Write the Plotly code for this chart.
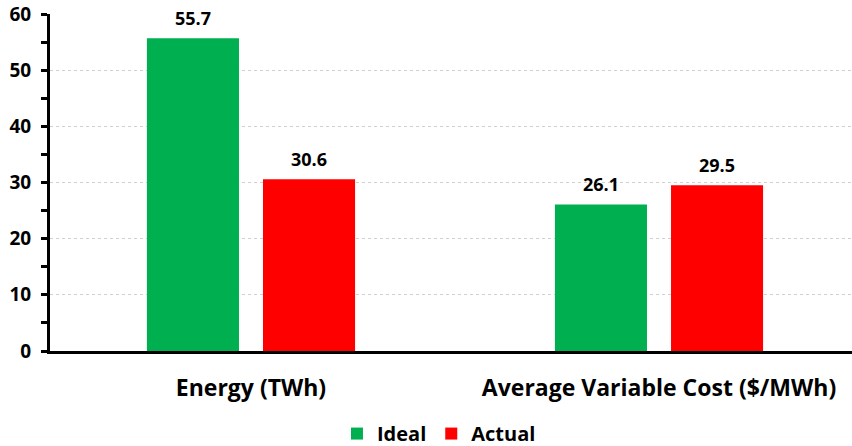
import plotly.graph_objects as go

categories = ["Energy (TWh)", "Average Variable Cost ($/MWh)"]
ideal = [55.7, 26.1]
actual = [30.6, 29.5]
series_names = ["Ideal", "Actual"]
y_ticks = [0, 10, 20, 30, 40, 50, 60]

GREEN = "#00B050"
RED = "#FF0000"
FONT = "Open Sans"

fig = go.Figure()
fig.add_trace(go.Bar(x=categories, y=ideal, name=series_names[0],
                     marker=dict(color=GREEN, line=dict(width=0))))
fig.add_trace(go.Bar(x=categories, y=actual, name=series_names[1],
                     marker=dict(color=RED, line=dict(width=0))))

# value labels above each bar
for vals, shift in ((ideal, -58), (actual, 58)):
    for cat, v in zip(categories, vals):
        fig.add_annotation(x=cat, y=v, xref="x", yref="y", text=f"<b>{v:.1f}</b>",
                           showarrow=False, xshift=shift, yshift=20,
                           font=dict(family=FONT, size=18, color="black"))

fig.update_layout(
    width=852, height=446,
    margin=dict(l=50, r=0, t=14, b=95, autoexpand=False),
    paper_bgcolor="white", plot_bgcolor="white",
    barmode="group", bargap=0.431, bargroupgap=0.207,
    font=dict(family=FONT, color="black"),
    showlegend=True,
    legend=dict(orientation="h", x=0.485, xanchor="center", y=-0.245, yanchor="middle",
                font=dict(family=FONT, size=20, color="black", weight="bold"),
                itemwidth=30, traceorder="normal"),
)
fig.update_xaxes(
    range=[-0.4926, 1.473], automargin=False,
    showline=True, linecolor="black", linewidth=3,
    ticks="", showgrid=False,
    tickfont=dict(family=FONT, size=23, color="black", weight="bold"),
    ticklabelstandoff=14,
)
fig.update_yaxes(
    range=[0, 60], tickvals=y_ticks, automargin=False,
    showline=True, linecolor="black", linewidth=3,
    ticks="outside", ticklen=6, tickwidth=3, tickcolor="black",
    minor=dict(dtick=5, ticks="outside", ticklen=6, tickwidth=3, tickcolor="black", showgrid=False),
    showgrid=True, gridcolor="#cfcfcf", gridwidth=1, griddash="dot",
    zeroline=False,
    tickfont=dict(family=FONT, size=19, color="black", weight="bold"),
    ticklabelstandoff=6,
)

fig.write_html("out.html")
